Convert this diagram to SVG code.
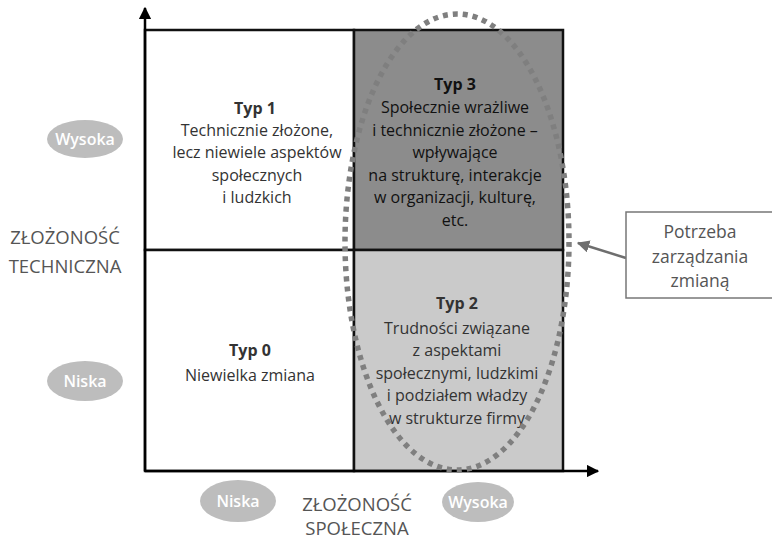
<svg xmlns="http://www.w3.org/2000/svg" width="772" height="539" viewBox="0 0 772 539">
<defs>
<marker id="ah" viewBox="0 0 10 10" refX="9" refY="5" markerWidth="5" markerHeight="5" orient="auto" markerUnits="strokeWidth"><path d="M0,0 L10,5 L0,10 z" fill="#000"/></marker>
<marker id="ag" viewBox="0 0 10 10" refX="9" refY="5" markerWidth="5" markerHeight="5" orient="auto" markerUnits="strokeWidth"><path d="M0,0 L10,5 L0,10 z" fill="#6e6e6e"/></marker>
</defs>
<style>
text{font-family:"Open Sans","Liberation Sans",sans-serif;text-anchor:middle;dominant-baseline:central}
.t{font-size:16px;fill:#333}
.b{font-weight:bold}
.d{font-size:16px;fill:#111}
.pill{fill:#bdbdbd}
.pt{font-size:16px;fill:#fff;font-weight:600}
.ax{font-size:18.5px;fill:#555}
.pz{font-size:17.5px;fill:#555}
.cell{stroke:#111;stroke-width:2.5}
</style>
<rect width="772" height="539" fill="#fff"/>
<g id="cell-typ1"><rect class="cell" x="145" y="30" width="209" height="220" fill="#fff"/>
<text class="t b" x="255" y="108">Typ 1</text>
<text class="t" x="257" y="130">Technicznie złożone,</text>
<text class="t" x="257" y="152">lecz niewiele aspektów</text>
<text class="t" x="257" y="175">społecznych</text>
<text class="t" x="257" y="197">i ludzkich</text></g>
<g id="cell-typ3"><rect class="cell" x="354" y="30" width="209" height="220" fill="#8c8c8c"/>
<text class="d b" x="455" y="84">Typ 3</text>
<text class="d" x="455" y="107">Społecznie wrażliwe</text>
<text class="d" x="455" y="130">i technicznie złożone –</text>
<text class="d" x="455" y="152">wpływające</text>
<text class="d" x="455" y="175">na strukturę, interakcje</text>
<text class="d" x="455" y="197">w organizacji, kulturę,</text>
<text class="d" x="455" y="220">etc.</text></g>
<g id="cell-typ0"><rect class="cell" x="145" y="250" width="209" height="221" fill="#fff"/>
<text class="t b" x="250" y="350">Typ 0</text>
<text class="t" x="250" y="375">Niewielka zmiana</text></g>
<g id="cell-typ2"><rect class="cell" x="354" y="250" width="209" height="221" fill="#cacaca"/>
<text class="t b" x="457" y="303">Typ 2</text>
<text class="t" x="457" y="328">Trudności związane</text>
<text class="t" x="457" y="350">z aspektami</text>
<text class="t" x="457" y="373">społecznymi, ludzkimi</text>
<text class="t" x="457" y="395">i podziałem władzy</text>
<text class="t" x="457" y="418">w strukturze firmy</text></g>
<g id="connectors">
<line x1="145" y1="471" x2="145" y2="8" stroke="#000" stroke-width="2.5" marker-end="url(#ah)"/>
<line x1="145" y1="471" x2="598" y2="471" stroke="#000" stroke-width="2.5" marker-end="url(#ah)"/>
<line x1="626" y1="258" x2="578" y2="243" stroke="#6e6e6e" stroke-width="2.5" marker-end="url(#ag)"/>
</g>
<g id="change-ellipse"><ellipse cx="457" cy="242" rx="112" ry="228" fill="none" stroke="#7f7f7f" stroke-width="5.5" stroke-dasharray="5 5"/></g>
<g id="box-potrzeba"><rect x="626" y="212" width="150" height="86" fill="#fff" stroke="#777" stroke-width="1.5"/>
<text class="pz" x="700" y="231">Potrzeba</text>
<text class="pz" x="700" y="256">zarządzania</text>
<text class="pz" x="700" y="280">zmianą</text></g>
<g id="y-high"><ellipse class="pill" cx="85" cy="139" rx="38" ry="19"/><text class="pt" x="85" y="139">Wysoka</text></g>
<g id="y-low"><ellipse class="pill" cx="85" cy="381" rx="38" ry="20"/><text class="pt" x="85" y="381">Niska</text></g>
<g id="y-label"><text class="ax" x="65" y="236">ZŁOŻONOŚĆ</text><text class="ax" x="65" y="265">TECHNICZNA</text></g>
<g id="x-low"><ellipse class="pill" cx="238" cy="501" rx="38" ry="21"/><text class="pt" x="238" y="501">Niska</text></g>
<g id="x-high"><ellipse class="pill" cx="478" cy="502" rx="36" ry="20"/><text class="pt" x="478" y="502">Wysoka</text></g>
<g id="x-label"><text class="ax" x="357" y="503">ZŁOŻONOŚĆ</text><text class="ax" x="357" y="527">SPOŁECZNA</text></g>
</svg>
